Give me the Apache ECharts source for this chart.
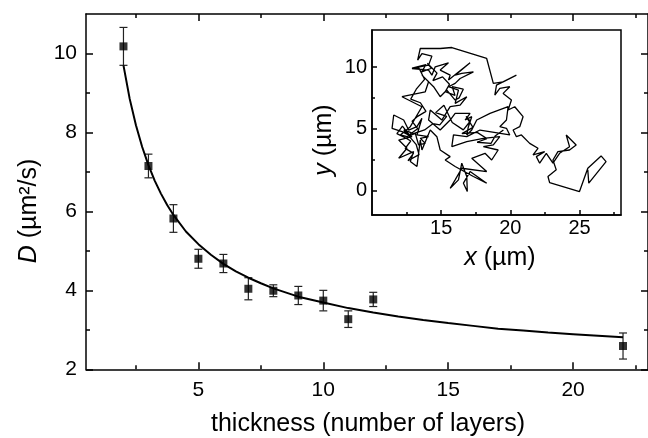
<!DOCTYPE html>
<html>
<head>
<meta charset="utf-8">
<script src="https://cdn.jsdelivr.net/npm/echarts@6/dist/echarts.min.js"></script>
<style>
  html, body { margin: 0; padding: 0; background: #fff; }
  #chart { width: 648px; height: 438px; }
</style>
</head>
<body>
<div id="chart"></div>
<script>
// main plot: diffusion coefficient vs thickness
var thickness = [2, 3, 4, 5, 6, 7, 8, 9, 10, 11, 12, 22];
var diffusion = [10.18, 7.15, 5.82, 4.80, 4.68, 4.04, 3.99, 3.87, 3.74, 3.27, 3.77, 2.59];
var diffErr = [0.48, 0.30, 0.35, 0.24, 0.23, 0.28, 0.15, 0.23, 0.26, 0.21, 0.18, 0.33];

// fitted curve
var fitX = [2, 2.25, 2.5, 2.75, 3, 3.25, 3.5, 3.75, 4, 4.5, 5, 5.5, 6, 6.5, 7, 7.5, 8, 9, 10,
  11, 12, 13, 14, 15, 16, 17, 18, 19, 20, 21, 22];
var fitY = [9.70, 8.85, 8.18, 7.63, 7.17, 6.78, 6.45, 6.16, 5.91, 5.49, 5.17, 4.90, 4.67, 4.48, 4.32, 4.18, 4.05, 3.84, 3.69,
  3.55, 3.44, 3.34, 3.25, 3.17, 3.10, 3.03, 2.98, 2.93, 2.89, 2.85, 2.81];

// inset: trajectory (µm)
var trackX = [25.60, 25.67, 26.92, 26.56, 25.60, 25.00, 22.84, 22.72, 23.32, 23.08, 23.44, 24.28, 24.76, 24.04, 24.28, 23.56,
  23.08, 22.60, 22.12, 21.88, 22.48, 21.64, 22.00, 21.40, 20.80, 20.44, 20.20, 20.68, 20.92, 20.32, 19.84, 20.08,
  19.48, 19.96, 19.24, 18.88, 19.00, 20.44, 19.48, 18.77, 18.29, 15.77, 14.93, 13.49, 13.30, 13.61, 14.33, 14.09,
  12.89, 14.09, 14.33, 14.57, 15.53, 14.93, 15.65, 15.53, 17.09, 16.01, 16.49, 17.33, 16.37, 16.01, 15.53, 16.25,
  16.01, 16.85, 16.37, 15.65, 15.05, 14.21, 14.09, 14.93, 15.65, 16.01, 17.09, 16.73, 17.21, 16.97, 16.85, 17.21,
  17.57, 18.53, 19.84, 19.72, 19.24, 19.72, 19.96, 17.81, 16.85, 15.89, 15.77, 16.85, 18.05, 19.24, 18.77, 18.05,
  19.12, 18.65, 18.17, 17.21, 18.29, 16.49, 16.01, 15.65, 16.25, 16.49, 16.85, 16.89, 16.61, 17.09, 18.29, 17.33,
  16.01, 15.29, 15.65, 14.93, 14.69, 14.21, 13.61, 13.49, 13.25, 12.77, 13.01, 11.93, 12.53, 11.93, 12.89, 12.17,
  11.45, 11.57, 12.29, 12.65, 13.25, 13.61, 13.25, 14.09, 13.49, 13.85, 13.37, 13.13, 12.53, 12.05, 12.77, 13.61,
  12.17, 13.85, 14.09, 13.61, 14.45, 14.93, 15.41, 16.01, 16.30, 16.60, 15.80, 16.00, 15.30, 15.60, 15.10, 14.40,
  14.70, 14.00, 14.30, 13.60, 13.90, 12.90, 13.40, 13.80, 13.20, 12.80, 13.50, 13.90, 13.30, 12.90, 13.30, 12.70,
  12.20, 11.80, 12.50, 12.80, 12.40, 13.00, 12.60, 13.40, 13.20, 12.30, 13.00, 13.80, 14.40, 14.90, 15.40, 14.60,
  15.20, 15.80, 16.60, 17.10, 16.80, 17.30, 16.50, 17.60, 18.30, 17.60, 18.60, 18.90, 19.50];
var trackY = [1.66, 0.58, 2.33, 2.79, 1.79, -0.10, 0.63, 1.12, 1.66, 2.46, 3.14, 3.27, 3.68, 4.49, 3.54, 3.00,
  2.20, 3.00, 2.20, 2.73, 3.14, 2.87, 3.41, 3.81, 4.49, 4.35, 4.89, 5.16, 5.97, 6.78, 6.51, 7.32,
  7.86, 8.40, 8.26, 7.72, 8.53, 9.34, 8.80, 8.67, 10.69, 11.58, 11.50, 11.50, 10.56, 11.09, 10.88, 10.15,
  9.88, 9.75, 9.34, 10.02, 10.34, 9.75, 9.34, 8.94, 10.34, 9.34, 9.48, 9.61, 9.07, 8.67, 8.40, 8.13,
  7.05, 7.59, 6.91, 6.78, 5.70, 6.51, 5.70, 4.89, 5.70, 6.24, 6.24, 5.70, 5.97, 5.16, 4.49, 4.89,
  5.70, 6.24, 6.78, 5.70, 5.16, 5.03, 4.49, 4.89, 4.35, 4.49, 3.54, 3.95, 4.22, 4.35, 3.68, 3.54,
  3.27, 2.46, 3.00, 2.60, 1.52, 1.79, 0.85, 0.17, 0.85, 2.20, 1.12, -0.10, 0.58, 1.52, 0.58, 1.12,
  1.93, 2.46, 2.73, 3.27, 4.35, 4.89, 3.27, 4.08, 1.93, 2.33, 3.14, 2.60, 3.41, 4.08, 4.35, 4.76,
  5.03, 6.11, 5.70, 4.89, 5.16, 5.84, 4.49, 4.35, 4.22, 3.81, 3.68, 4.62, 4.35, 4.49, 5.16, 6.78,
  7.59, 7.99, 8.80, 9.34, 8.40, 7.59, 8.13, 7.32, 7.50, 8.20, 8.40, 7.70, 8.00, 8.60, 9.20, 8.90,
  9.50, 10.30, 9.90, 9.60, 10.20, 9.90, 9.90, 9.00, 8.20, 7.40, 7.10, 6.40, 6.00, 5.60, 5.00, 4.50,
  5.20, 4.60, 4.20, 4.00, 3.40, 3.00, 2.40, 2.90, 3.70, 4.90, 4.60, 4.90, 5.40, 5.30, 6.00, 6.30,
  6.90, 5.50, 4.90, 5.60, 6.00, 5.10, 4.60, 4.70, 4.20, 3.90, 3.80, 4.40, 4.90];

// ticks
var mainXTicks = [5, 10, 15, 20];
var mainXMinor = [2.5, 7.5, 12.5, 17.5, 22.5];
var mainYTicks = [2, 4, 6, 8, 10];
var mainYMinor = [3, 5, 7, 9];
var insetXTicks = [15, 20, 25];
var insetXMinor = [12.5, 17.5, 22.5, 27.5];
var insetYTicks = [0, 5, 10];
var insetYMinor = [2.5, 7.5];

var FONT = "'Liberation Sans', Arial, sans-serif";

function makeAxis(opt) {
  // one axis: either major (labels + long ticks) or minor (short ticks only)
  return {
    type: 'value',
    gridIndex: opt.grid,
    position: opt.position,
    min: opt.min,
    max: opt.max,
    axisLine: { show: !!opt.line, onZero: false, lineStyle: { color: '#000', width: 1.5 } },
    axisTick: {
      show: true,
      inside: true,
      length: opt.len,
      customValues: opt.ticks,
      lineStyle: { color: '#000', width: 1.5 }
    },
    axisLabel: {
      show: !!opt.labels,
      customValues: opt.labels ? opt.ticks : undefined,
      margin: opt.margin || 8,
      color: '#000',
      fontSize: opt.fontSize || 21,
      fontFamily: FONT
    },
    splitLine: { show: false }
  };
}

var fitData = fitX.map(function (x, i) { return [x, fitY[i]]; });
var pointData = thickness.map(function (x, i) { return [x, diffusion[i]]; });
var errData = thickness.map(function (x, i) { return [x, diffusion[i] - diffErr[i], diffusion[i] + diffErr[i]]; });
var trackData = trackX.map(function (x, i) { return [x, trackY[i]]; });

var chart = echarts.init(document.getElementById('chart'), null, { renderer: 'canvas' });

chart.setOption({
  animation: false,
  backgroundColor: '#fff',
  grid: [
    { left: 86, top: 14, width: 564, height: 355.3, show: false },
    { left: 372, top: 30, width: 249, height: 185, show: true, borderColor: '#000', borderWidth: 1.5, backgroundColor: 'transparent' }
  ],
  xAxis: [
    makeAxis({ grid: 0, position: 'bottom', min: 0.5, max: 23, ticks: mainXTicks, len: 7, line: true, labels: true, margin: 10 }),
    makeAxis({ grid: 0, position: 'bottom', min: 0.5, max: 23, ticks: mainXMinor, len: 4 }),
    makeAxis({ grid: 0, position: 'top', min: 0.5, max: 23, ticks: mainXTicks, len: 7, line: true }),
    makeAxis({ grid: 0, position: 'top', min: 0.5, max: 23, ticks: mainXMinor, len: 4 }),
    makeAxis({ grid: 1, position: 'bottom', min: 10, max: 28, ticks: insetXTicks, len: 5, line: true, labels: true, margin: 3, fontSize: 20 }),
    makeAxis({ grid: 1, position: 'bottom', min: 10, max: 28, ticks: insetXMinor, len: 3 })
  ],
  yAxis: [
    makeAxis({ grid: 0, position: 'left', min: 2, max: 11, ticks: mainYTicks, len: 7, line: true, labels: true, margin: 9 }),
    makeAxis({ grid: 0, position: 'left', min: 2, max: 11, ticks: mainYMinor, len: 4 }),
    makeAxis({ grid: 0, position: 'right', min: 2, max: 11, ticks: mainYTicks, len: 7, line: true }),
    makeAxis({ grid: 0, position: 'right', min: 2, max: 11, ticks: mainYMinor, len: 4 }),
    makeAxis({ grid: 1, position: 'left', min: -2, max: 13, ticks: insetYTicks, len: 5, line: true, labels: true, margin: 5, fontSize: 20 }),
    makeAxis({ grid: 1, position: 'left', min: -2, max: 13, ticks: insetYMinor, len: 3 })
  ],
  series: [
    {
      name: 'fit',
      type: 'line',
      xAxisIndex: 0,
      yAxisIndex: 0,
      data: fitData,
      showSymbol: false,
      lineStyle: { color: '#000', width: 2 }
    },
    {
      name: 'error',
      type: 'custom',
      xAxisIndex: 0,
      yAxisIndex: 0,
      data: errData,
      renderItem: function (params, api) {
        var lo = api.coord([api.value(0), api.value(1)]);
        var hi = api.coord([api.value(0), api.value(2)]);
        var w = 4;
        var st = { stroke: '#222', lineWidth: 1.2 };
        return {
          type: 'group',
          children: [
            { type: 'line', shape: { x1: lo[0], y1: lo[1], x2: hi[0], y2: hi[1] }, style: st },
            { type: 'line', shape: { x1: lo[0] - w, y1: lo[1], x2: lo[0] + w, y2: lo[1] }, style: st },
            { type: 'line', shape: { x1: hi[0] - w, y1: hi[1], x2: hi[0] + w, y2: hi[1] }, style: st }
          ]
        };
      }
    },
    {
      name: 'D',
      type: 'scatter',
      xAxisIndex: 0,
      yAxisIndex: 0,
      data: pointData,
      symbol: 'rect',
      symbolSize: 8,
      itemStyle: { color: '#000' }
    },
    {
      name: 'track',
      type: 'line',
      xAxisIndex: 4,
      yAxisIndex: 4,
      data: trackData,
      showSymbol: false,
      lineStyle: { color: '#000', width: 1.3 }
    }
  ],
  graphic: [
    {
      type: 'text', x: 368, y: 424,
      style: { text: 'thickness (number of layers)', font: '25px ' + FONT, fill: '#000', align: 'center', verticalAlign: 'middle' }
    },
    {
      type: 'text', x: 29, y: 211, rotation: Math.PI / 2,
      style: {
        text: '{i|D} (µm²/s)', fill: '#000', align: 'center', verticalAlign: 'middle',
        fontSize: 25, fontFamily: FONT,
        rich: { i: { fontStyle: 'italic', fontSize: 25, fontFamily: FONT } }
      }
    },
    {
      type: 'text', x: 500, y: 258,
      style: {
        text: '{i|x} (µm)', fill: '#000', align: 'center', verticalAlign: 'middle',
        fontSize: 25, fontFamily: FONT,
        rich: { i: { fontStyle: 'italic', fontSize: 25, fontFamily: FONT } }
      }
    },
    {
      type: 'text', x: 324, y: 140, rotation: Math.PI / 2,
      style: {
        text: '{i|y} (µm)', fill: '#000', align: 'center', verticalAlign: 'middle',
        fontSize: 25, fontFamily: FONT,
        rich: { i: { fontStyle: 'italic', fontSize: 25, fontFamily: FONT } }
      }
    }
  ]
});
</script>
</body>
</html>
